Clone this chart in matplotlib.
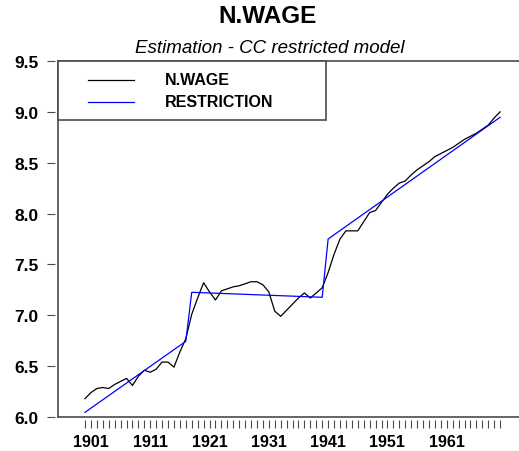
import matplotlib
matplotlib.use("Agg")
import matplotlib.pyplot as plt
from matplotlib.patches import Rectangle
from matplotlib.lines import Line2D

plt.rcParams['font.family'] = ['Liberation Sans', 'DejaVu Sans']
plt.rcParams['font.weight'] = 'bold'

# ---- data ----
years = list(range(1900, 1971))
n_wage = [6.18, 6.24, 6.28, 6.29, 6.28, 6.32, 6.35, 6.38, 6.31, 6.40,
          6.46, 6.44, 6.47, 6.54, 6.54, 6.49, 6.64, 6.77, 7.01, 7.17,
          7.32, 7.23, 7.15, 7.24, 7.26, 7.28, 7.29, 7.31, 7.33, 7.33,
          7.30, 7.23, 7.04, 6.99, 7.05, 7.11, 7.17, 7.22, 7.17, 7.22,
          7.27, 7.42, 7.60, 7.75, 7.83, 7.83, 7.83, 7.92, 8.01, 8.03,
          8.11, 8.19, 8.25, 8.30, 8.32, 8.38, 8.43, 8.47, 8.51, 8.56,
          8.59, 8.62, 8.65, 8.69, 8.73, 8.76, 8.79, 8.83, 8.87, 8.94,
          9.00]
restr_years = [1900, 1917, 1918, 1940, 1941, 1970]
restr_vals = [6.046, 6.744, 7.226, 7.177, 7.75, 8.947]

xtick_years = years
xtick_labels = [str(y) if (y - 1901) % 10 == 0 else '' for y in years]
ytick_vals = [6.0, 6.5, 7.0, 7.5, 8.0, 8.5, 9.0, 9.5]
ytick_labels = ['6.0', '6.5', '7.0', '7.5', '8.0', '8.5', '9.0', '9.5']

title = 'N.WAGE'
subtitle = 'Estimation - CC restricted model'
legend_labels = ['N.WAGE', 'RESTRICTION']

# ---- figure ----
W, H = 519, 452
fig = plt.figure(figsize=(W / 100, H / 100), dpi=100)
ax = fig.add_axes([58 / W, (H - 418) / H, 1 - 58 / W, (418 - 62) / H])

ax.plot(years, n_wage, color='black', lw=0.9)
ax.plot(restr_years, restr_vals, color='#0000ff', lw=0.9)

ax.set_xlim(1900 - 27 / 5.93, 1900 + 434 / 5.93)
ax.set_ylim(6.0, 9.5)

frame_col = '#4a4a4a'
ax.tick_params(axis='both', direction='out', length=5.8, width=0.8, color=frame_col)
ax.tick_params(axis='x', pad=4.0, labelsize=11.6)
ax.tick_params(axis='y', pad=6.0, labelsize=12.5)

ax.set_xticks(xtick_years)
ax.set_xticklabels(xtick_labels)
ax.set_yticks(ytick_vals)
ax.set_yticklabels(ytick_labels)

for s in ['left', 'bottom']:
    ax.spines[s].set_position(('outward', 2.2))
    ax.spines[s].set_color('none')
for s in ['top', 'right']:
    ax.spines[s].set_visible(False)

# frame lines (left, top, bottom)
for xs, ys in [([0, 0], [0, 1]), ([0, 1], [1, 1]), ([0, 1], [0, 0])]:
    ax.add_line(Line2D(xs, ys, transform=ax.transAxes, color=frame_col,
                       lw=1.2, clip_on=False))

# legend box (manual)
aw, ah = 461.0, 356.0
def axx(px):
    return (px - 58) / aw
def axy(py):
    return (418 - py) / ah

ax.add_patch(Rectangle((0, axy(121)), axx(326), 1 - axy(121), transform=ax.transAxes,
                       facecolor='white', edgecolor=frame_col, lw=1.2, zorder=5,
                       clip_on=False))
for py, col, lab in [(80.7, 'black', legend_labels[0]), (102.7, '#0000ff', legend_labels[1])]:
    ax.add_line(Line2D([axx(88), axx(134)], [axy(py), axy(py)], transform=ax.transAxes,
                       color=col, lw=0.9, zorder=6))
    ax.text(axx(165), axy(py), lab, transform=ax.transAxes, fontsize=11.5,
            fontweight='bold', va='center', ha='left', zorder=6)

fig.text(268 / W, 1 - 23.3 / H, title, fontsize=17.5, fontweight='bold',
         ha='center', va='baseline')
fig.text(270 / W, 1 - 53.3 / H, subtitle, fontsize=13.5, style='italic',
         fontweight='normal', ha='center', va='baseline')

fig.savefig('out.png', dpi=100)
